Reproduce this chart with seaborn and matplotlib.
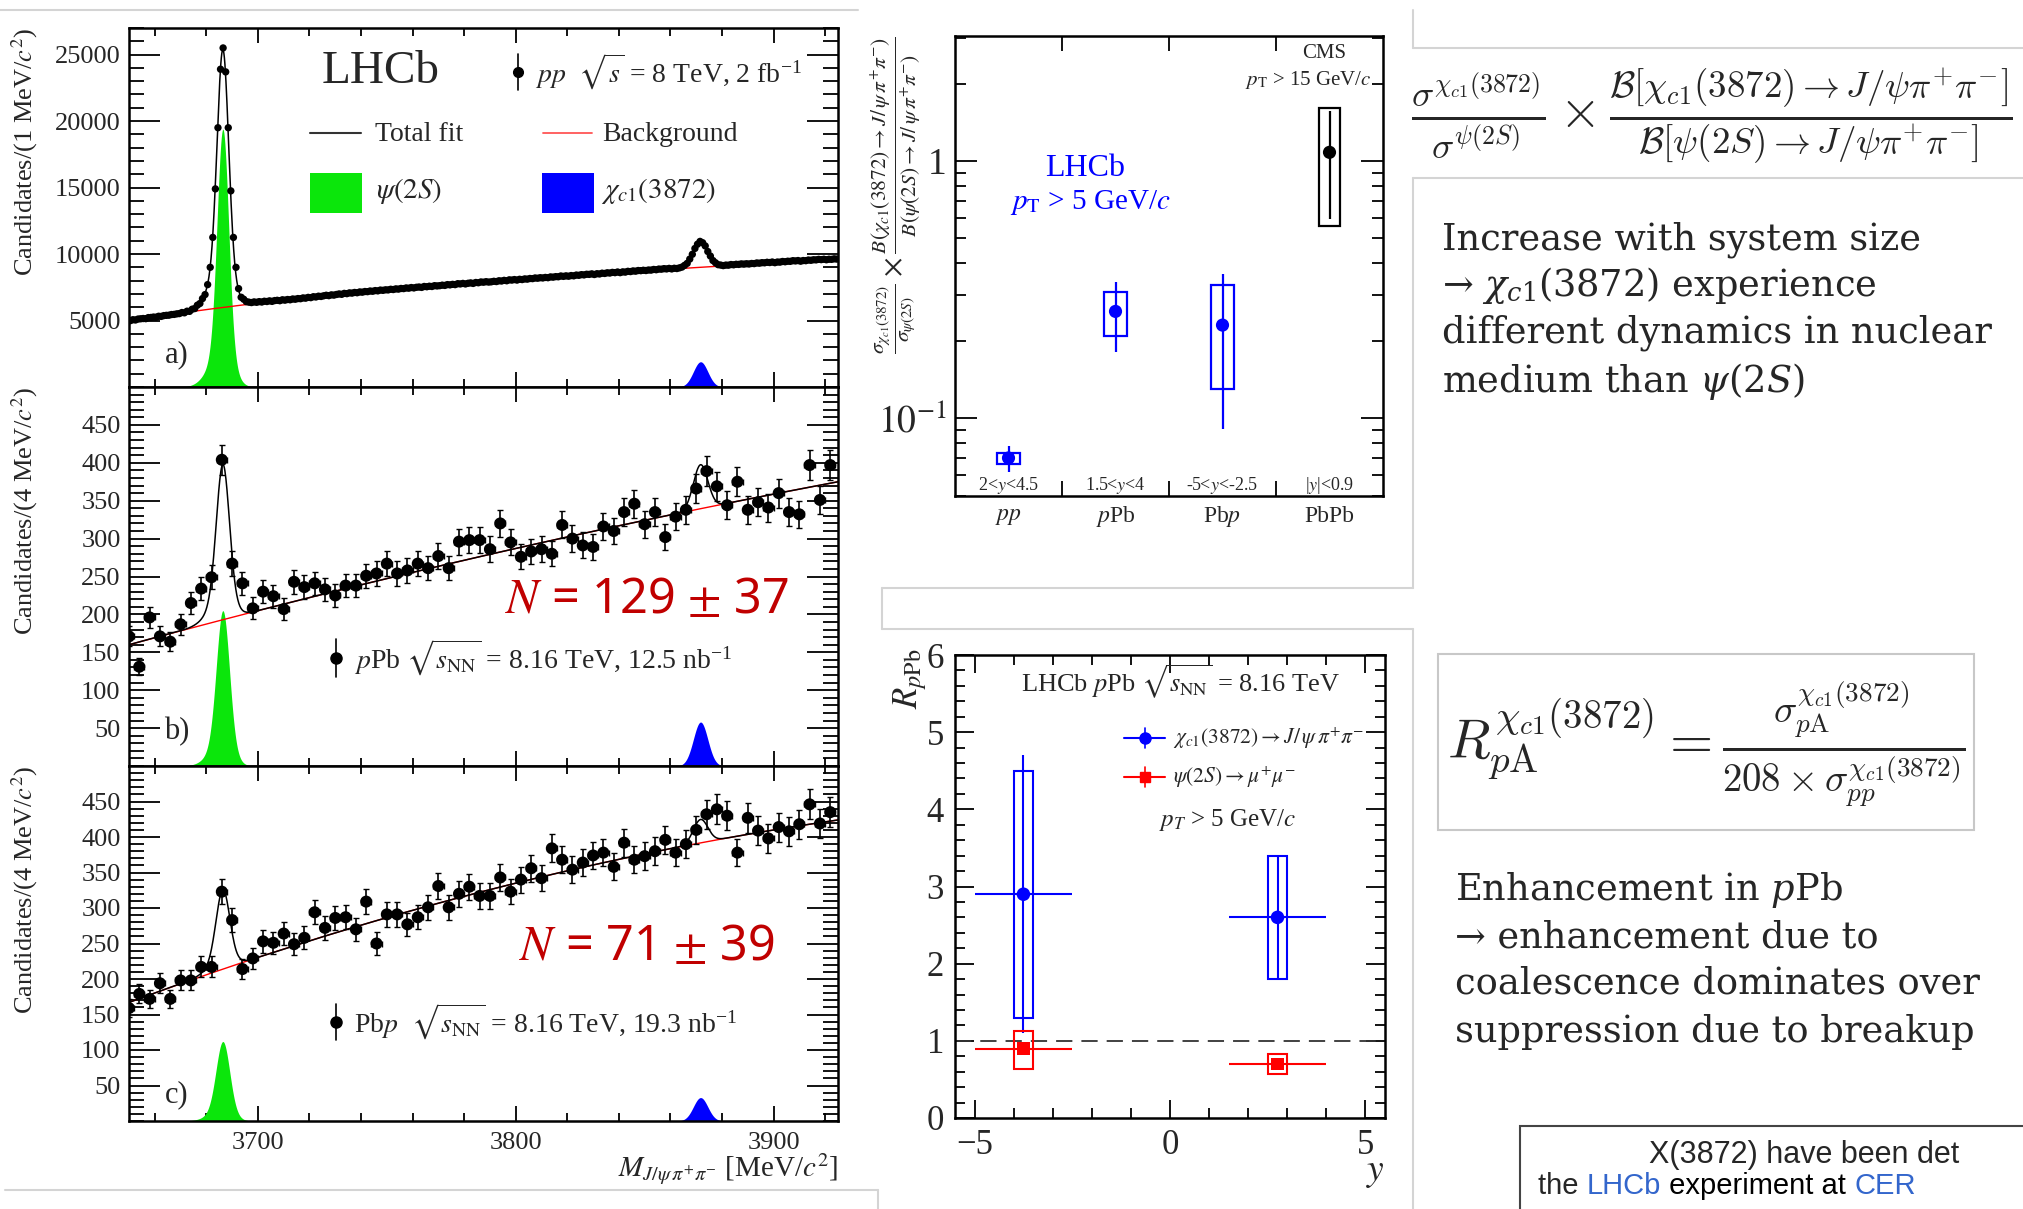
import numpy as np
import matplotlib
matplotlib.use("Agg")
import matplotlib.pyplot as plt
import seaborn as sns
from matplotlib.patches import Rectangle
from matplotlib.lines import Line2D
from matplotlib.ticker import MultipleLocator, FixedLocator, NullFormatter, NullLocator

# ---------------------------------------------------------------- data
# pp, 1 MeV bins (bin centres 3650.5 ... 3924.5)
mass_1mev = np.arange(3650.5, 3925.0, 1.0)
cand_pp = [
    4990, 5060, 5040, 5110, 5130, 5150, 5140, 5220, 5230, 5260,
    5250, 5320, 5310, 5370, 5390, 5400, 5450, 5460, 5500, 5520,
    5600, 5580, 5700, 5690, 5850, 5900, 6150, 6280, 6650, 6950,
    7700, 9000, 11250, 14900, 19500, 23900, 25500, 23700, 19500, 14750,
    11250, 9000, 7400, 6750, 6600, 6420, 6380, 6350, 6400, 6370,
    6420, 6390, 6450, 6430, 6480, 6440, 6500, 6520, 6490, 6560,
    6530, 6580, 6560, 6620, 6600, 6650, 6640, 6700, 6680, 6740,
    6720, 6790, 6770, 6830, 6810, 6860, 6900, 6870, 6930, 6910,
    6960, 7000, 6970, 7040, 7020, 7080, 7060, 7110, 7090, 7150,
    7130, 7180, 7170, 7220, 7200, 7250, 7230, 7290, 7270, 7310,
    7300, 7350, 7330, 7380, 7360, 7410, 7400, 7450, 7430, 7480,
    7450, 7500, 7520, 7490, 7560, 7540, 7580, 7560, 7620, 7600,
    7620, 7660, 7640, 7700, 7680, 7720, 7700, 7770, 7750, 7790,
    7750, 7800, 7830, 7790, 7860, 7840, 7900, 7880, 7920, 7890,
    7910, 7950, 7930, 7990, 7970, 8020, 7990, 8060, 8040, 8080,
    8040, 8100, 8080, 8130, 8110, 8160, 8150, 8200, 8180, 8220,
    8200, 8240, 8220, 8280, 8260, 8300, 8290, 8350, 8320, 8360,
    8330, 8380, 8360, 8420, 8400, 8450, 8430, 8480, 8470, 8510,
    8460, 8520, 8500, 8560, 8540, 8590, 8570, 8620, 8600, 8650,
    8600, 8660, 8640, 8700, 8680, 8730, 8710, 8760, 8750, 8780,
    8760, 8800, 8790, 8840, 8820, 8870, 8860, 8900, 8880, 8920,
    8880, 8930, 8910, 8960, 9020, 9150, 9300, 9620, 9980, 10420,
    10740, 10950, 10850, 10610, 10190, 9850, 9510, 9340, 9200, 9170,
    9130, 9170, 9160, 9210, 9190, 9230, 9220, 9260, 9240, 9270,
    9250, 9290, 9280, 9330, 9310, 9350, 9340, 9380, 9360, 9400,
    9350, 9400, 9390, 9440, 9420, 9460, 9450, 9500, 9480, 9510,
    9460, 9510, 9500, 9550, 9530, 9570, 9560, 9600, 9580, 9610,
    9570, 9610, 9600, 9640, 9620]

# pPb and Pbp, 4 MeV bins (bin centres 3650 ... 3922)
mass_4mev = np.arange(3650.0, 3925.0, 4.0)
cand_ppb = [171, 131, 196, 171, 164, 187, 215, 234, 249, 404,
            267, 241, 208, 230, 224, 207, 243, 236, 241, 233,
            225, 238, 238, 251, 254, 267, 254, 258, 267, 261,
            277, 261, 296, 298, 298, 286, 320, 295, 276, 283,
            286, 280, 318, 300, 291, 289, 316, 310, 335, 346,
            319, 335, 302, 329, 338, 366, 389, 369, 344, 375,
            338, 348, 341, 360, 335, 332, 397, 351, 397]
cand_pbp = [159, 179, 172, 194, 172, 198, 198, 217, 217, 323,
            283, 214, 229, 253, 251, 264, 249, 258, 294, 272,
            286, 287, 270, 309, 250, 291, 291, 277, 287, 301,
            331, 301, 320, 330, 317, 317, 343, 323, 340, 356,
            342, 384, 368, 354, 364, 374, 378, 358, 392, 368,
            373, 380, 396, 378, 390, 410, 432, 439, 430, 378,
            427, 409, 398, 414, 408, 418, 446, 419, 435]

# fit results: background shape and signal heights
bkg_pp_t = [0, 25, 50, 90, 150, 215, 275]
bkg_pp_v = [5000, 5660, 6340, 7150, 8050, 8960, 9620]
bkg_ppb_poly = [160.0, 0.9245, -0.000519]
bkg_pbp_poly = [167.0, 1.3426, -0.001484]
psi_height = {"pp": 19400, "pPb": 205, "Pbp": 112}
chi_height = {"pp": 1900, "pPb": 58, "Pbp": 33}
psi_mass, chi_mass = 3686.4, 3871.7

# cross-section ratio vs collision system
systems = ["$pp$", "$p$Pb", "Pb$p$", "PbPb"]
rap_ranges = ["2<$y$<4.5", "1.5<$y$<4", "-5<$y$<-2.5", "|$y$|<0.9"]
ratio_val = [0.070, 0.26, 0.23, 1.08]
ratio_stat_lo = [0.0616, 0.181, 0.091, 0.596]
ratio_stat_hi = [0.078, 0.337, 0.365, 1.56]
ratio_sys_lo = [0.0664, 0.209, 0.130, 0.559]
ratio_sys_hi = [0.0731, 0.309, 0.330, 1.605]
ratio_color = ["#0000ff", "#0000ff", "#0000ff", "#000000"]

# nuclear modification factor vs rapidity
rap_center = [-3.75, 2.75]
rap_half = [1.25, 1.25]
rpa_x_val = [2.9, 2.6]
rpa_x_stat = [(1.1, 4.7), (1.8, 3.4)]
rpa_x_sys = [(1.3, 4.5), (1.8, 3.4)]
rpa_psi_val = [0.90, 0.70]
rpa_psi_stat = [(0.82, 0.98), (0.66, 0.74)]
rpa_psi_sys = [(0.63, 1.13), (0.57, 0.83)]

# ---------------------------------------------------------------- style
sns.set_theme(style="ticks")
plt.rcParams["font.family"] = ["Liberation Serif", "DejaVu Serif"]
plt.rcParams["mathtext.fontset"] = "stix"
plt.rcParams["axes.unicode_minus"] = True

W, H = 2023, 1209
fig = plt.figure(figsize=(W / 100, H / 100), dpi=100)
fig.patch.set_facecolor("white")


def fx(x):
    return x / W


def fy(y):
    return 1 - y / H


def box(x0, y0, x1, y1):
    return [fx(x0), fy(y1), (x1 - x0) / W, (y1 - y0) / H]


def root_frame(ax, xmaj, xmin, ymaj, ymin, lw=1.8):
    ax.tick_params(which="both", direction="in", top=True, right=True,
                   width=1.3, color="black")
    ax.tick_params(axis="x", which="major", length=xmaj)
    ax.tick_params(axis="x", which="minor", length=xmin)
    ax.tick_params(axis="y", which="major", length=ymaj)
    ax.tick_params(axis="y", which="minor", length=ymin)
    for s in ax.spines.values():
        s.set_linewidth(lw)
        s.set_color("black")
    ax.set_facecolor("white")


def peak(m, height, mu, s_core, s_left, s_right, f_core=0.85):
    d = m - mu
    wide = np.where(d < 0, np.exp(-0.5 * (d / s_left) ** 2),
                    np.exp(-0.5 * (d / s_right) ** 2))
    return height * (f_core * np.exp(-0.5 * (d / s_core) ** 2) + (1 - f_core) * wide)


GREEN, BLUE, RED = "#0be60b", "#0000ff", "#ff0000"
m_fine = np.linspace(3650, 3925, 1376)

# ---------------------------------------------------------------- mass panels
axA = fig.add_axes(box(129, 28, 838, 387))
axB = fig.add_axes(box(129, 387, 838, 766))
axC = fig.add_axes(box(129, 766, 838, 1121))

coef_pp = np.polyfit(bkg_pp_t, bkg_pp_v, 3)
bkg_curves = {
    "pp": np.polyval(coef_pp, m_fine - 3650),
    "pPb": np.polyval(bkg_ppb_poly[::-1], m_fine - 3650),
    "Pbp": np.polyval(bkg_pbp_poly[::-1], m_fine - 3650),
}
core_width = {"pp": 2.2, "pPb": 2.5, "Pbp": 2.6}
panels = [
    (axA, "pp", mass_1mev, cand_pp, 0.0, 27000, 5000, 1000,
     "Candidates/(1 MeV/$c^2$)", "a)"),
    (axB, "pPb", mass_4mev, cand_ppb, 2.0, 500, 50, 10,
     "Candidates/(4 MeV/$c^2$)", "b)"),
    (axC, "Pbp", mass_4mev, cand_pbp, 2.0, 500, 50, 10,
     "Candidates/(4 MeV/$c^2$)", "c)"),
]
for ax, key, mass, cand, xe, ytop, ymajor, yminor, ylab, tag in panels:
    cand = np.asarray(cand, dtype=float)
    sig_psi = peak(m_fine, psi_height[key], psi_mass, core_width[key], 5.0, 3.8)
    sig_chi = peak(m_fine, chi_height[key], chi_mass, 2.8, 2.8, 2.8, f_core=1.0)
    bkg = bkg_curves[key]
    ax.fill_between(m_fine, 0, sig_psi, where=sig_psi > ytop * 0.0015,
                    color=GREEN, lw=0, zorder=1)
    ax.fill_between(m_fine, 0, sig_chi, where=sig_chi > ytop * 0.0015,
                    color=BLUE, lw=0, zorder=1)
    sns.lineplot(x=m_fine, y=bkg, ax=ax, color=RED, lw=1.0, zorder=2)
    sns.lineplot(x=m_fine, y=bkg + sig_psi + sig_chi, ax=ax, color="black",
                 lw=1.1, zorder=3)
    ax.errorbar(mass, cand, yerr=np.sqrt(cand), xerr=xe if xe else None,
                fmt="none", ecolor="black", elinewidth=1.2,
                capsize=0 if key == "pp" else 2.5, zorder=4)
    sns.scatterplot(x=mass, y=cand, ax=ax, color="black", edgecolor="none",
                    s=28 if key == "pp" else 75, zorder=5)
    ax.set_xlim(3650, 3925)
    ax.set_ylim(0, ytop)
    ax.xaxis.set_major_locator(MultipleLocator(100))
    ax.xaxis.set_minor_locator(MultipleLocator(20))
    ax.yaxis.set_major_locator(FixedLocator(np.arange(ymajor, ytop - 1, ymajor)))
    ax.yaxis.set_minor_locator(MultipleLocator(yminor))
    root_frame(ax, 11, 6, 22, 11)
    ax.tick_params(axis="y", labelsize=19, pad=6)
    ax.tick_params(axis="x", labelsize=19, pad=8)
    ax.set_xlabel("")
    ax.set_ylabel(ylab, fontsize=19, loc="top")
    ax.yaxis.set_label_coords(-0.125, 1.0)
    ax.text(0.05, 0.09 if key != "Pbp" else 0.075, tag, transform=ax.transAxes,
            fontsize=22, ha="left", va="center")
    if ax is not axC:
        ax.tick_params(axis="x", labelbottom=False)

axC.set_xlabel(r"$M_{J/\psi\,\pi^{+}\pi^{-}}$ [MeV/$c^{2}$]", fontsize=21, loc="right")
axC.xaxis.set_label_coords(1.0, -0.085)

# panel a annotations
axA.text(0.355, 0.877, "LHCb", transform=axA.transAxes, fontsize=34,
         ha="center", va="center")


def point_glyph(ax, x, y, dy, ms=7, color="black", marker="o"):
    ax.plot([x, x], [y - dy, y + dy], transform=ax.transAxes, color=color,
            lw=1.2, clip_on=False)
    ax.plot([x], [y], transform=ax.transAxes, marker=marker, ms=ms,
            color=color, clip_on=False)


point_glyph(axA, 0.549, 0.877, 0.05)
axA.text(0.572, 0.877, r"$pp$  $\sqrt{s}$ = 8 TeV, 2 fb$^{\mathregular{-1}}$",
         transform=axA.transAxes, fontsize=20, ha="left", va="center")
axA.plot([0.255, 0.327], [0.708, 0.708], transform=axA.transAxes, color="#333333", lw=1.5)
axA.text(0.347, 0.703, "Total fit", transform=axA.transAxes, fontsize=20,
         ha="left", va="center")
axA.plot([0.584, 0.653], [0.708, 0.708], transform=axA.transAxes, color="#ff5555", lw=1.3)
axA.text(0.668, 0.703, "Background", transform=axA.transAxes, fontsize=20,
         ha="left", va="center")
axA.add_patch(Rectangle((0.255, 0.485), 0.073, 0.111, transform=axA.transAxes,
                        color=GREEN, lw=0))
axA.text(0.349, 0.545, r"$\psi(2S)$", transform=axA.transAxes, fontsize=21,
         ha="left", va="center")
axA.add_patch(Rectangle((0.582, 0.485), 0.074, 0.111, transform=axA.transAxes,
                        color=BLUE, lw=0))
axA.text(0.666, 0.545, r"$\chi_{c1}(3872)$", transform=axA.transAxes, fontsize=21,
         ha="left", va="center")

# panels b and c annotations
for ax, ytxt, yn, label, ntext in [
        (axB, 0.285, 0.438, r"$p$Pb $\sqrt{s_{\mathrm{NN}}}$ = 8.16 TeV, 12.5 nb$^{\mathregular{-1}}$",
         r"$N$ = 129 $\pm$ 37"),
        (axC, 0.279, 0.49, r"Pb$p$  $\sqrt{s_{\mathrm{NN}}}$ = 8.16 TeV, 19.3 nb$^{\mathregular{-1}}$",
         r"$N$ = 71 $\pm$ 39")]:
    point_glyph(ax, 0.292, ytxt, 0.05, ms=8)
    ax.text(0.317, ytxt, label, transform=ax.transAxes, fontsize=20,
            ha="left", va="center")
    ax.text(0.73, yn, ntext, transform=ax.transAxes, fontsize=35, color="#c00000",
            ha="center", va="center", family=["Noto Sans", "DejaVu Sans"])

# ---------------------------------------------------------------- ratio vs system
axR = fig.add_axes(box(955, 36, 1383, 496))
xpos = np.arange(len(systems)) + 0.5
for i in range(len(systems)):
    c = ratio_color[i]
    hw = 0.107 if i < 3 else 0.10
    axR.add_patch(Rectangle((xpos[i] - hw, ratio_sys_lo[i]), 2 * hw,
                            ratio_sys_hi[i] - ratio_sys_lo[i], fill=False,
                            ec=c, lw=1.6, zorder=3))
    axR.vlines(xpos[i], ratio_stat_lo[i], ratio_stat_hi[i], color=c, lw=1.6, zorder=3)
sns.scatterplot(x=xpos, y=ratio_val, hue=systems, palette=ratio_color,
                ax=axR, s=90, edgecolor="none", legend=False, zorder=4)
axR.set_yscale("log")
axR.set_xlim(0, 4)
axR.set_ylim(0.0498, 3.06)
axR.xaxis.set_major_locator(FixedLocator([1, 2, 3]))
axR.xaxis.set_minor_locator(NullLocator())
axR.set_xticklabels([])
axR.set_yticks([0.1, 1])
axR.set_yticklabels([r"$10^{-1}$", "1"])
axR.yaxis.set_minor_locator(FixedLocator(
    [v * s for v in (0.01, 0.1, 1) for s in range(2, 10) if 0.0498 < v * s < 3.06]))
axR.yaxis.set_minor_formatter(NullFormatter())
root_frame(axR, 11, 5, 16, 8)
axR.tick_params(axis="y", labelsize=27, pad=6)
for i in range(len(systems)):
    axR.text(xpos[i], -0.045, systems[i], transform=axR.get_xaxis_transform(),
             fontsize=17, ha="center", va="center")
    axR.text(xpos[i], 0.022, rap_ranges[i], transform=axR.get_xaxis_transform(),
             fontsize=13, ha="center", va="center")
axR.text(0.862, 0.961, "CMS", transform=axR.transAxes, fontsize=15,
         ha="center", va="center")
axR.text(0.825, 0.904, r"$p_{\mathrm{T}}$ > 15 GeV/$c$", transform=axR.transAxes,
         fontsize=15, ha="center", va="center")
axR.text(0.304, 0.713, "LHCb", transform=axR.transAxes, fontsize=23, color=BLUE,
         ha="center", va="center")
axR.text(0.316, 0.637, r"$p_{\mathrm{T}}$ > 5 GeV/$c$", transform=axR.transAxes,
         fontsize=21, color=BLUE, ha="center", va="center")
axR.text(-0.14, 1.0,
         r"$\frac{\sigma_{\chi_{c1}(3872)}}{\sigma_{\psi(2S)}}\times"
         r"\frac{B(\chi_{c1}(3872)\rightarrow J/\,\psi\,\pi^{+}\pi^{-})}"
         r"{B(\psi(2S)\rightarrow J/\,\psi\,\pi^{+}\pi^{-})}$",
         transform=axR.transAxes, rotation=90, fontsize=22,
         ha="center", va="top")

# ---------------------------------------------------------------- R_pPb vs rapidity
axP = fig.add_axes(box(955, 655, 1385, 1118))
axP.axhline(1.0, color="#333333", lw=1.3, ls=(0, (9, 5)), zorder=1)
for i in range(len(rap_center)):
    xc, hw = rap_center[i], rap_half[i]
    axP.add_patch(Rectangle((xc - 0.25, rpa_x_sys[i][0]), 0.5,
                            rpa_x_sys[i][1] - rpa_x_sys[i][0], fill=False,
                            ec=BLUE, lw=1.5, zorder=3))
    axP.vlines(xc, *rpa_x_stat[i], color=BLUE, lw=1.5, zorder=3)
    axP.hlines(rpa_x_val[i], xc - hw, xc + hw, color=BLUE, lw=1.5, zorder=3)
    axP.add_patch(Rectangle((xc - 0.25, rpa_psi_sys[i][0]), 0.5,
                            rpa_psi_sys[i][1] - rpa_psi_sys[i][0], fill=False,
                            ec=RED, lw=1.5, zorder=3))
    axP.vlines(xc, *rpa_psi_stat[i], color=RED, lw=1.5, zorder=3)
    axP.hlines(rpa_psi_val[i], xc - hw, xc + hw, color=RED, lw=1.5, zorder=3)
sns.scatterplot(x=rap_center, y=rpa_x_val, ax=axP, color=BLUE, marker="o",
                s=95, edgecolor="none", zorder=4)
sns.scatterplot(x=rap_center, y=rpa_psi_val, ax=axP, color=RED, marker="s",
                s=80, edgecolor="none", zorder=4)
axP.set_xlim(-5.5, 5.5)
axP.set_ylim(0, 6)
axP.xaxis.set_major_locator(MultipleLocator(5))
axP.xaxis.set_minor_locator(MultipleLocator(1))
axP.yaxis.set_major_locator(MultipleLocator(1))
axP.yaxis.set_minor_locator(MultipleLocator(0.2))
root_frame(axP, 13, 7, 14, 7)
axP.tick_params(axis="both", labelsize=25, pad=8)
axP.set_xlabel("")
axP.set_ylabel("")
axP.text(1.0, -0.118, "$y$", transform=axP.transAxes, fontsize=27,
         ha="right", va="center")
axP.text(-0.105, 1.015, r"$R_{p\mathrm{Pb}}$", transform=axP.transAxes, fontsize=25,
         rotation=90, ha="center", va="top")
axP.text(0.525, 0.942, r"LHCb $p$Pb $\sqrt{s_{\mathrm{NN}}}$ = 8.16 TeV",
         transform=axP.transAxes, fontsize=19, ha="center", va="center")
point_glyph(axP, 0.442, 0.821, 0.022, ms=8, color=BLUE)
axP.plot([0.393, 0.488], [0.821, 0.821], transform=axP.transAxes, color=BLUE, lw=1.5)
axP.text(0.507, 0.821, r"$\chi_{c1}(3872)\rightarrow J/\,\psi\,\pi^{+}\pi^{-}$",
         transform=axP.transAxes, fontsize=15.5, ha="left", va="center")
point_glyph(axP, 0.442, 0.736, 0.022, ms=7.5, color=RED, marker="s")
axP.plot([0.393, 0.488], [0.736, 0.736], transform=axP.transAxes, color=RED, lw=1.5)
axP.text(0.507, 0.736, r"$\psi(2S)\rightarrow\mu^{+}\mu^{-}$",
         transform=axP.transAxes, fontsize=15.5, ha="left", va="center")
axP.text(0.635, 0.644, r"$p_{T}$ > 5 GeV/$c$", transform=axP.transAxes,
         fontsize=18, ha="center", va="center")

# ---------------------------------------------------------------- page frames
GREY = "#d4d4d4"


def seg(x0, y0, x1, y1, color=GREY, lw=1.5):
    fig.add_artist(Line2D([fx(x0), fx(x1)], [fy(y0), fy(y1)],
                          transform=fig.transFigure, color=color, lw=lw))


seg(0, 10, 858, 10)
seg(1413, 10, 1413, 48)
seg(1413, 48, 2023, 48)
seg(1413, 178, 2023, 178)
seg(1413, 178, 1413, 588)
seg(882, 588, 1413, 588)
seg(882, 588, 882, 629)
seg(882, 629, 1413, 629)
seg(1413, 629, 1413, 1209)
seg(5, 1190, 878, 1190)
seg(878, 1190, 878, 1209)
fig.add_artist(Rectangle((fx(1438), fy(830)), fx(1974) - fx(1438), fy(654) - fy(830),
                         transform=fig.transFigure, fill=False, ec="#c8c8c8", lw=1.5))
fig.add_artist(Rectangle((fx(1520), fy(1215)), fx(2040) - fx(1520), fy(1126) - fy(1215),
                         transform=fig.transFigure, fill=False, ec="#444444", lw=1.5))

# ---------------------------------------------------------------- side notes
fig.text(fx(1712), fy(116),
         r"$\frac{\sigma^{\chi_{c1}(3872)}}{\sigma^{\psi(2S)}}\times"
         r"\frac{\mathcal{B}[\chi_{c1}(3872)\rightarrow J/\psi\pi^{+}\pi^{-}]}"
         r"{\mathcal{B}[\psi(2S)\rightarrow J/\psi\pi^{+}\pi^{-}]}$",
         fontsize=38, ha="center", va="center", math_fontfamily="cm")
fig.text(fx(1706), fy(744),
         r"$R_{p\mathrm{A}}^{\chi_{c1}(3872)}=\frac{\sigma_{p\mathrm{A}}^{\chi_{c1}(3872)}}"
         r"{208\times\sigma_{pp}^{\chi_{c1}(3872)}}$",
         fontsize=40, ha="center", va="center", math_fontfamily="cm")

note_font = dict(fontsize=26.5, ha="left", va="center", family=["DejaVu Serif"],
                 math_fontfamily="dejavuserif")
note1 = ["Increase with system size", r"→ $\chi_{c1}$(3872) experience",
         "different dynamics in nuclear", r"medium than $\psi$(2$S$)"]
for line, yc in zip(note1, [240, 286, 333, 382]):
    fig.text(fx(1442), fy(yc), line, **note_font)
note2 = [r"Enhancement in $p$Pb", "→ enhancement due to",
         "coalescence dominates over", "suppression due to breakup"]
for line, yc in zip(note2, [890, 937, 984, 1032]):
    fig.text(fx(1455), fy(yc), line, **note_font)

# clipped article paragraph in the lower right corner
sans = ["Liberation Sans", "DejaVu Sans"]
fig.text(fx(1649), fy(1155), "X(3872) have been det", fontsize=22,
         ha="left", va="center", family=sans)
prev = fig.text(fx(1538), fy(1186), "the ", fontsize=21, ha="left", va="center",
                family=sans)
for piece, col in [("LHCb", "#3366cc"), (" experiment at ", "black"), ("CER", "#3366cc")]:
    prev = fig.add_artist(matplotlib.text.Annotation(
        piece, xy=(1, 0.5), xycoords=prev, va="center", ha="left",
        fontsize=21, color=col, family=sans, annotation_clip=False))

fig.savefig("out.png", dpi=100, facecolor="white")
